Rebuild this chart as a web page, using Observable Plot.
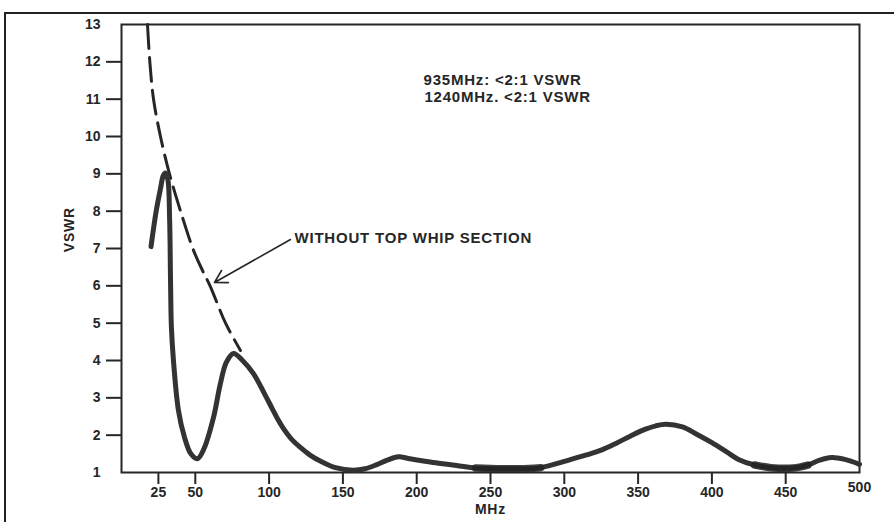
<!DOCTYPE html>
<html><head><meta charset="utf-8">
<script src="https://cdn.jsdelivr.net/npm/d3@7"></script>
<script src="https://cdn.jsdelivr.net/npm/@observablehq/plot@0.6"></script>
<style>
body{margin:0;background:#fff;}
#wrap{position:relative;width:894px;height:522px;overflow:hidden;background:#fff;}
#outer{position:absolute;left:4px;top:12px;width:920px;height:600px;border-left:2px solid #222;border-top:2px solid #222;}
#chart{position:absolute;left:0;top:0;}
#chart g[aria-label="text"] text{letter-spacing:0.8px;}
</style></head><body>
<div id="wrap"><div id="outer"></div><div id="chart"></div></div>
<script>
// With top whip (solid curve)
const solidMHz  = [20, 23.5, 26.4, 28.3, 29.8, 31.4, 32.6, 33.2, 33.8, 35.2, 38.6, 42.7, 47, 51.5, 56, 62.3, 67, 71, 75.9, 82, 89.4, 97, 102, 106, 110, 115, 121, 128, 135, 145, 157, 165, 173, 180, 187.7, 195, 211, 227, 240, 257, 270, 284, 302, 315, 325, 335, 345, 355, 362, 369, 380, 390, 400, 410, 418, 429, 440, 455, 465, 473, 481, 490, 500];
const solidVSWR = [7.05, 8.0, 8.6, 8.95, 9.02, 8.85, 7.8, 6.2, 4.9, 4.0, 2.66, 1.94, 1.5, 1.37, 1.65, 2.47, 3.38, 3.95, 4.19, 4.0, 3.65, 3.1, 2.72, 2.42, 2.16, 1.9, 1.68, 1.46, 1.3, 1.13, 1.06, 1.1, 1.21, 1.33, 1.42, 1.37, 1.27, 1.19, 1.12, 1.1, 1.1, 1.13, 1.32, 1.47, 1.6, 1.78, 1.98, 2.16, 2.25, 2.29, 2.22, 2.02, 1.8, 1.55, 1.35, 1.2, 1.13, 1.12, 1.2, 1.33, 1.4, 1.35, 1.22];
// Without top whip section (dashed curve)
const dashMHz  = [17.6, 19.2, 21.7, 26.4, 32.5, 40, 48.8, 55, 60, 70.5, 80.6];
const dashVSWR = [13, 12, 11, 10, 9, 8, 6.95, 6.4, 6.0, 5.0, 4.27];
// Axis ticks
const xTicks = [25, 50, 100, 150, 200, 250, 300, 350, 400, 450];
const xEndTick = [500];
const yTicks = [2, 3, 4, 5, 6, 7, 8, 9, 10, 11, 12];
const yEndTicks = [1, 13];
// Text
const notes = ["935MHz: <2:1 VSWR", "1240MHz. <2:1 VSWR"];
const notePos = [{x: 204.6, y: 11.5}, {x: 205.2, y: 11.05}];
const annotation = "WITHOUT TOP WHIP SECTION";
const arrowSpec = [{x1: 114.5, y1: 7.24, x2: 63, y2: 6.09}];

const solid = solidMHz.map((x, i) => ({x, y: solidVSWR[i]}));
const dashed = dashMHz.map((x, i) => ({x, y: dashVSWR[i]}));
const smeared = solid.filter(d => (d.x >= 235 && d.x <= 284) || (d.x >= 429 && d.x <= 465));
const ink = "#262626";

const chart = Plot.plot({
  width: 894, height: 522,
  marginLeft: 121, marginRight: 35, marginTop: 24, marginBottom: 50,
  x: {domain: [0, 500]},
  y: {domain: [1, 13]},
  style: {fontFamily: "'Liberation Sans', Arial, sans-serif", fontSize: "14px", fontWeight: "bold", color: ink, background: "transparent"},
  marks: [
    Plot.axisY(yTicks, {tickSize: 15, tickPadding: 6, strokeWidth: 2, label: null}),
    Plot.axisY(yEndTicks, {tickSize: 0, tickPadding: 21, label: null}),
    Plot.axisX(xTicks, {tickSize: 12, tickPadding: 3, strokeWidth: 2, label: null}),
    Plot.axisX(xEndTick, {tickSize: 0, tickPadding: 10, label: null}),
    Plot.frame({stroke: ink, strokeWidth: 2}),
    Plot.text(["MHz"], {x: 250, frameAnchor: "bottom", dy: 41, fontSize: 14}),
    Plot.text(["VSWR"], {y: 6.9, frameAnchor: "left", dx: -52, rotate: -90, fontSize: 14}),
    Plot.line(dashed, {x: "x", y: "y", curve: "catmull-rom", stroke: ink, strokeWidth: 3, strokeDasharray: "24,9"}),
    Plot.line(solid, {x: "x", y: "y", curve: "catmull-rom", stroke: "#333", strokeWidth: 5, strokeLinecap: "round", strokeLinejoin: "round"}),
    Plot.line(smeared, {x: "x", y: "y", z: d => d.x < 350 ? "a" : "b", curve: "catmull-rom", stroke: "#222", strokeWidth: 7.5, strokeOpacity: 0.85}),
    Plot.arrow(arrowSpec, {x1: "x1", y1: "y1", x2: "x2", y2: "y2", stroke: ink, strokeWidth: 1.6, headLength: 13}),
    Plot.text([annotation], {x: 117.2, y: 7.28, textAnchor: "start", fontSize: 15}),
    Plot.text(notes, {x: (d, i) => notePos[i].x, y: (d, i) => notePos[i].y, textAnchor: "start", fontSize: 15})
  ]
});
document.getElementById("chart").appendChild(chart);
</script>
</body></html>
